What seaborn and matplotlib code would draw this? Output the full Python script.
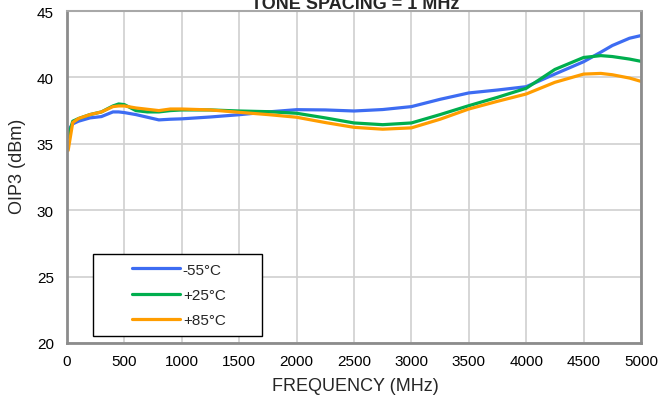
import matplotlib
matplotlib.use("Agg")
import matplotlib.pyplot as plt
from matplotlib.patches import Rectangle
import seaborn as sns
import pandas as pd

freq = [10, 50, 100, 200, 300, 400, 450, 500, 600, 700, 800, 900, 1000, 1250, 1500,
        1750, 2000, 2250, 2500, 2750, 3000, 3250, 3500, 3750, 4000, 4250, 4500,
        4650, 4750, 4900, 5000]
oip3_m55 = [36.0, 36.5, 36.7, 36.95, 37.05, 37.4, 37.4, 37.35, 37.2, 37.0, 36.8, 36.85,
            36.88, 37.02, 37.19, 37.4, 37.57, 37.55, 37.47, 37.58, 37.8, 38.35, 38.83, 39.05,
            39.3, 40.25, 41.18, 41.9, 42.4, 42.95, 43.15]
oip3_p25 = [35.5, 36.7, 36.9, 37.2, 37.4, 37.85, 38.0, 37.95, 37.5, 37.4, 37.4, 37.5,
            37.55, 37.55, 37.47, 37.42, 37.3, 36.95, 36.57, 36.44, 36.57, 37.2, 37.87, 38.5,
            39.18, 40.6, 41.5, 41.64, 41.57, 41.38, 41.21]
oip3_p85 = [34.5, 36.6, 36.9, 37.2, 37.4, 37.8, 37.85, 37.85, 37.7, 37.6, 37.5, 37.62,
            37.62, 37.55, 37.37, 37.2, 37.0, 36.6, 36.24, 36.1, 36.2, 36.85, 37.62, 38.2,
            38.75, 39.63, 40.25, 40.3, 40.2, 39.95, 39.7]
labels = ["-55°C", "+25°C", "+85°C"]
colors = ["#3D6CF2", "#00AE4E", "#FF9D00"]
x_ticks = [0, 500, 1000, 1500, 2000, 2500, 3000, 3500, 4000, 4500, 5000]
y_ticks = [20, 25, 30, 35, 40, 45]

rows = []
for lab, vals in zip(labels, [oip3_m55, oip3_p25, oip3_p85]):
    for f, v in zip(freq, vals):
        rows.append({"freq": f, "oip3": v, "temp": lab})
df = pd.DataFrame(rows)

sns.set_style("white")
plt.rcParams['font.family'] = ['Liberation Sans', 'DejaVu Sans']

fig = plt.figure(figsize=(6.6, 4.02), dpi=100)
ax = fig.add_axes([67/660, 1 - 344/402, 574/660, 332/402])

sns.lineplot(data=df, x="freq", y="oip3", hue="temp", palette=dict(zip(labels, colors)),
             linewidth=2.3, ax=ax, legend=False, sort=False)

ax.set_xlim(0, 5000)
ax.set_ylim(20, 45)
ax.set_xticks(x_ticks)
ax.set_yticks(y_ticks)
ax.tick_params(axis='both', labelsize=11, length=0, colors='black')
ax.tick_params(axis='x', pad=8)
ax.tick_params(axis='y', pad=9.5)
ax.grid(True, color='#D0D0D0', linewidth=1.2)
ax.set_axisbelow(True)
for side in ['left', 'bottom', 'right']:
    ax.spines[side].set_color('#8C8C8C')
    ax.spines[side].set_linewidth(2)
ax.spines['top'].set_color('#A8A8A8')
ax.spines['top'].set_linewidth(1.5)

ax.set_xlabel("FREQUENCY (MHz)", fontsize=13)
ax.set_ylabel("OIP3 (dBm)", fontsize=13)
ax.xaxis.set_label_coords((355 - 67) / 574, (344 - 378) / 332)
ax.yaxis.set_label_coords((26 - 67) / 574, (344 - 166) / 332)

fig.text(355/660, 1 - 9/402, "TONE SPACING = 1 MHz", ha='center', va='baseline',
         fontsize=13, fontweight='bold')

# legend frame and entries
ax.add_patch(Rectangle((26/574, 7/332), 169/574, 82/332, transform=ax.transAxes,
                       facecolor='white', edgecolor='black', linewidth=1, zorder=5))
handles = [plt.Line2D([], [], color=c, linewidth=2.3) for c in colors]
leg = ax.legend(handles, labels, loc='center', bbox_to_anchor=(112/574, 48/332),
                frameon=False, fontsize=11, handlelength=3.1, handletextpad=0.2,
                labelspacing=0.75)
leg.set_zorder(6)

fig.savefig("out.png", dpi=100)
